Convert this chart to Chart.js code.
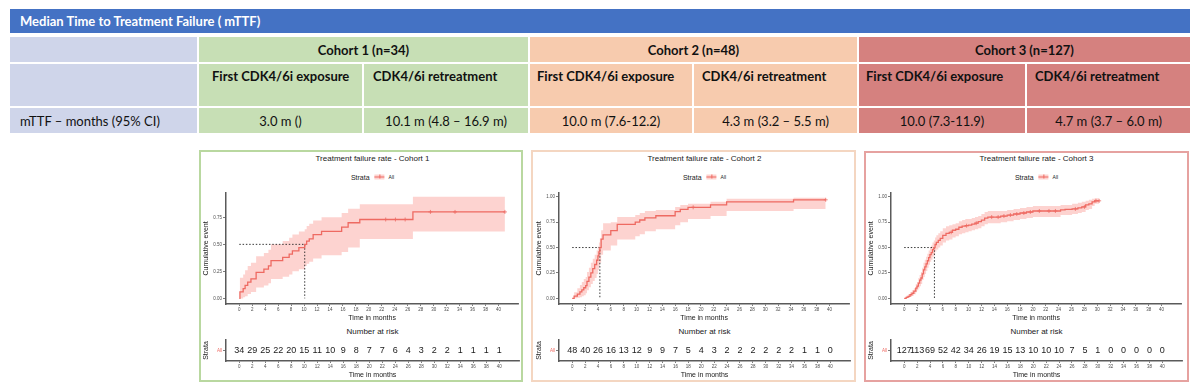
<!DOCTYPE html>
<html>
<head>
<meta charset="utf-8">
<script src="https://cdn.jsdelivr.net/npm/chart.js@4.4.1/dist/chart.umd.min.js"></script>
<style>
html,body{margin:0;padding:0;background:#fff;}
body{width:1200px;height:392px;position:relative;overflow:hidden;}
.box{position:absolute;box-sizing:border-box;}
.tc{position:absolute;white-space:nowrap;line-height:1;font-family:Lato,'Open Sans',sans-serif;font-size:13px;color:#111;transform:translateY(-50%);}
.lbl{position:absolute;white-space:nowrap;line-height:1;transform:translate(-50%,-50%);font-family:'Liberation Sans',Arial,sans-serif;color:#1a1a1a;}
canvas{position:absolute;}
</style>
</head>
<body>
<script>
// ================= DATA =================
const tableTitle = 'Median Time to Treatment Failure ( mTTF)';
const cohortHeaders = ['Cohort 1 (n=34)', 'Cohort 2 (n=48)', 'Cohort 3 (n=127)'];
const subHeaders = ['First CDK4/6i exposure', 'CDK4/6i retreatment'];
const rowLabel = 'mTTF – months (95% CI)';
const mttfValues = ['3.0 m ()', '10.1 m (4.8 – 16.9 m)', '10.0 m (7.6-12.2)', '4.3 m (3.2 – 5.5 m)', '10.0 (7.3-11.9)', '4.7 m (3.7 – 6.0 m)'];

const chartTitles = ['Treatment failure rate - Cohort 1', 'Treatment failure rate - Cohort 2', 'Treatment failure rate - Cohort 3'];
const legendTitle = 'Strata';
const strataLabel = 'All';
const xAxisTitle = 'Time in months';
const yAxisTitle = 'Cumulative event';
const riskTitle = 'Number at risk';
const riskYTitle = 'Strata';

const timeTicks = [0,2,4,6,8,10,12,14,16,18,20,22,24,26,28,30,32,34,36,38,40];
const timeTickLabels = ['0','2','4','6','8','10','12','14','16','18','20','22','24','26','28','30','32','34','36','38','40'];
const yTicksC1 = [0, 0.25, 0.5, 0.75];
const yTickLabelsC1 = ['0.00','0.25','0.50','0.75'];
const yTicksC23 = [0, 0.25, 0.5, 0.75, 1];
const yTickLabelsC23 = ['0.00','0.25','0.50','0.75','1.00'];

// Cohort 1
const c1Time  = [0, 0.1, 0.6, 0.9, 1.3, 1.8, 2.6, 3.8, 4.5, 4.9, 6.7, 7.7, 8.2, 9.2, 10.1, 10.4, 10.8, 11.4, 12.7, 15.8, 16.8, 18.6, 26.8, 41.0];
const c1Est   = [0, 0.06, 0.09, 0.12, 0.15, 0.18, 0.24, 0.27, 0.30, 0.35, 0.38, 0.41, 0.44, 0.47, 0.50, 0.53, 0.55, 0.59, 0.62, 0.66, 0.70, 0.73, 0.80, 0.80];
const c1Lower = [0, 0.00, 0.01, 0.02, 0.04, 0.06, 0.10, 0.12, 0.14, 0.18, 0.20, 0.22, 0.25, 0.27, 0.30, 0.32, 0.34, 0.37, 0.40, 0.43, 0.47, 0.55, 0.62, 0.62];
const c1Upper = [0, 0.19, 0.22, 0.26, 0.30, 0.33, 0.39, 0.42, 0.45, 0.50, 0.53, 0.56, 0.59, 0.62, 0.64, 0.67, 0.69, 0.72, 0.75, 0.79, 0.83, 0.87, 0.94, 0.94];
const c1CensorTime = [22.6, 24.1, 25.6, 29.5, 33.3, 41.0];
const c1CensorEst  = [0.73, 0.73, 0.73, 0.80, 0.80, 0.80];
const c1Median = 10.1;
const c1Risk = [34,29,25,22,20,15,11,10,9,8,7,7,6,4,3,2,2,1,1,1,1];

// Cohort 2
const c2Time  = [0, 0.3, 0.8, 1.2, 1.5, 1.8, 2.1, 2.3, 2.6, 2.9, 3.2, 3.5, 3.8, 4.0, 4.15, 4.3, 4.5, 4.8, 6.0, 7.0, 9.8, 10.5, 11.3, 13.0, 16.0, 16.8, 18.0, 21.5, 24.0, 34.4, 39.4];
const c2Est   = [0, 0.021, 0.042, 0.063, 0.083, 0.104, 0.125, 0.167, 0.208, 0.25, 0.292, 0.333, 0.375, 0.417, 0.458, 0.50, 0.583, 0.625, 0.667, 0.729, 0.75, 0.771, 0.792, 0.813, 0.854, 0.875, 0.896, 0.92, 0.95, 0.97, 0.97];
const c2Lower = [0, 0, 0.005, 0.01, 0.02, 0.03, 0.05, 0.08, 0.11, 0.14, 0.17, 0.20, 0.24, 0.28, 0.31, 0.35, 0.43, 0.47, 0.52, 0.58, 0.61, 0.63, 0.66, 0.68, 0.72, 0.75, 0.78, 0.81, 0.86, 0.88, 0.88];
const c2Upper = [0, 0.06, 0.10, 0.13, 0.16, 0.19, 0.21, 0.26, 0.30, 0.35, 0.39, 0.43, 0.47, 0.51, 0.55, 0.59, 0.67, 0.74, 0.75, 0.80, 0.82, 0.84, 0.86, 0.87, 0.90, 0.92, 0.93, 0.95, 0.98, 0.99, 0.99];
const c2CensorTime = [18.8, 39.4];
const c2CensorEst  = [0.896, 0.97];
const c2Median = 4.3;
const c2Risk = [48,40,26,16,13,12,9,9,7,5,4,3,2,2,2,2,2,2,1,1,0];

// Cohort 3
const c3Time  = [0, 0.3, 0.6, 0.9, 1.2, 1.5, 1.8, 2.0, 2.2, 2.4, 2.6, 2.8, 3.0, 3.2, 3.4, 3.6, 3.8, 4.0, 4.2, 4.4, 4.6, 4.8, 5.0, 5.3, 5.6, 6.0, 6.5, 7.0, 7.5, 8.0, 8.5, 9.0, 9.5, 10.0, 10.5, 11.0, 11.5, 12.0, 12.5, 13.0, 14.0, 15.0, 16.0, 17.0, 18.0, 19.0, 20.0, 24.3, 25.0, 26.1, 27.0, 27.6, 28.2, 28.7, 29.2, 29.6, 30.3];
const c3Est   = [0, 0.01, 0.02, 0.035, 0.05, 0.07, 0.10, 0.12, 0.15, 0.18, 0.20, 0.24, 0.28, 0.31, 0.34, 0.37, 0.40, 0.43, 0.45, 0.48, 0.50, 0.53, 0.55, 0.57, 0.59, 0.62, 0.64, 0.65, 0.67, 0.68, 0.70, 0.71, 0.715, 0.72, 0.73, 0.74, 0.755, 0.77, 0.79, 0.80, 0.80, 0.81, 0.82, 0.83, 0.84, 0.85, 0.86, 0.87, 0.875, 0.88, 0.89, 0.90, 0.92, 0.93, 0.95, 0.96, 0.96];
const c3Lower = [0, 0.0, 0.005, 0.015, 0.025, 0.04, 0.06, 0.08, 0.10, 0.12, 0.14, 0.18, 0.21, 0.24, 0.27, 0.30, 0.33, 0.36, 0.38, 0.41, 0.43, 0.46, 0.48, 0.50, 0.52, 0.55, 0.57, 0.58, 0.60, 0.61, 0.63, 0.64, 0.65, 0.66, 0.67, 0.68, 0.69, 0.71, 0.73, 0.74, 0.74, 0.75, 0.76, 0.77, 0.78, 0.79, 0.80, 0.82, 0.82, 0.83, 0.84, 0.85, 0.87, 0.88, 0.91, 0.93, 0.93];
const c3Upper = [0, 0.025, 0.04, 0.06, 0.08, 0.10, 0.14, 0.16, 0.20, 0.23, 0.26, 0.30, 0.35, 0.38, 0.41, 0.44, 0.47, 0.50, 0.52, 0.55, 0.57, 0.60, 0.62, 0.64, 0.66, 0.69, 0.71, 0.72, 0.73, 0.74, 0.76, 0.77, 0.78, 0.78, 0.79, 0.80, 0.81, 0.83, 0.85, 0.86, 0.86, 0.86, 0.87, 0.88, 0.89, 0.90, 0.91, 0.92, 0.92, 0.93, 0.94, 0.95, 0.96, 0.97, 0.98, 0.985, 0.985];
const c3CensorTime = [7.3, 9.7, 11.2, 13.6, 14.6, 15.5, 16.5, 17.5, 18.6, 19.6, 21.0, 22.5, 23.5, 26.6, 28.0, 29.8, 30.3];
const c3CensorEst  = [0.65, 0.715, 0.74, 0.80, 0.80, 0.81, 0.82, 0.83, 0.84, 0.85, 0.86, 0.86, 0.86, 0.88, 0.90, 0.96, 0.96];
const c3Median = 4.7;
const c3Risk = [127,113,69,52,42,34,26,19,15,13,10,10,10,7,5,1,0,0,0,0,0];

// ================= STYLE / LAYOUT =================
const LINE = '#EE6A62';
const BAND = 'rgba(248,118,109,0.32)';
const AXIS = '#5a5a5a';
const TICKTXT = '#4d4d4d';
const FONT = "'Liberation Sans', Arial, sans-serif";
Chart.defaults.font.family = FONT;

function el(tag, cls, style, text) {
  const e = document.createElement(tag);
  if (cls) e.className = cls;
  Object.assign(e.style, style || {});
  if (text !== undefined) e.textContent = text;
  document.body.appendChild(e);
  return e;
}
function rect(x0, y0, x1, y1, bg) {
  return el('div', 'box', {left: x0+'px', top: y0+'px', width: (x1-x0)+'px', height: (y1-y0)+'px', background: bg});
}

// ---------- table ----------
const C_HEAD = '#4472C4', C_FIRST = '#CFD5EA';
const C_COH = ['#C7DFB5', '#F7CBAE', '#D5817F'];
rect(10, 9, 1190, 33, C_HEAD);
el('div', 'tc', {left: '20px', top: '21px', color: '#fff', fontWeight: '700'}, tableTitle);

const rows = [[37, 62], [64, 106], [108, 133]];
rows.forEach(r => rect(10, r[0], 197, r[1], C_FIRST));
el('div', 'tc', {left: '20px', top: '121px'}, rowLabel);

const cohortSpan = [[199, 528], [530, 857], [859, 1190]];
cohortSpan.forEach((s, i) => {
  rect(s[0], rows[0][0], s[1], rows[0][1], C_COH[i]);
  el('div', 'tc', {left: ((s[0]+s[1])/2)+'px', top: '50px', fontWeight: '700', transform: 'translate(-50%,-50%)'}, cohortHeaders[i]);
});
const subSpan = [[199, 362], [364, 528], [530, 692], [694, 857], [859, 1025], [1027, 1190]];
const subTextLeft = [212, 373, 537, 702, 866, 1035];
subSpan.forEach((s, i) => {
  const col = C_COH[Math.floor(i/2)];
  rect(s[0], rows[1][0], s[1], rows[1][1], col);
  rect(s[0], rows[2][0], s[1], rows[2][1], col);
  el('div', 'tc', {left: subTextLeft[i]+'px', top: '76px', fontWeight: '700'}, subHeaders[i % 2]);
  el('div', 'tc', {left: ((s[0]+s[1])/2)+'px', top: '121px', transform: 'translate(-50%,-50%)'}, mttfValues[i]);
});

// ---------- KM panels ----------
const cohorts = [
  {time: c1Time, est: c1Est, lower: c1Lower, upper: c1Upper, cT: c1CensorTime, cE: c1CensorEst, median: c1Median, risk: c1Risk, yTicks: yTicksC1, yLabels: yTickLabelsC1},
  {time: c2Time, est: c2Est, lower: c2Lower, upper: c2Upper, cT: c2CensorTime, cE: c2CensorEst, median: c2Median, risk: c2Risk, yTicks: yTicksC23, yLabels: yTickLabelsC23},
  {time: c3Time, est: c3Est, lower: c3Lower, upper: c3Upper, cT: c3CensorTime, cE: c3CensorEst, median: c3Median, risk: c3Risk, yTicks: yTicksC23, yLabels: yTickLabelsC23}
];
const panels = [
  {box: [199, 150, 523, 382], border: '#B9D8A0', axisX: 226, plotW: 293, yMin: -0.052, yMax: 0.977},
  {box: [531, 150, 856, 382], border: '#F4D6C1', axisX: 559, plotW: 291, yMin: -0.056, yMax: 1.039},
  {box: [864, 151, 1189, 382], border: '#E6A2A0', axisX: 891, plotW: 291, yMin: -0.056, yMax: 1.039}
];
const X_MIN = -2.05, X_MAX = 43.05;
const Y_W = 30;

function xScale(title) {
  return {
    type: 'linear', min: X_MIN, max: X_MAX,
    afterBuildTicks: s => { s.ticks = timeTicks.map(v => ({value: v})); },
    afterFit: s => { s.height = 18; },
    ticks: {callback: (v, i) => timeTickLabels[i], autoSkip: false, maxRotation: 0, padding: 1, font: {size: 4.5}, color: TICKTXT},
    grid: {drawOnChartArea: false, drawTicks: true, tickLength: 2, color: AXIS, lineWidth: 0.8},
    border: {display: true, color: AXIS, width: 1.5},
    title: {display: true, text: title, color: '#1a1a1a', font: {size: 7}, padding: {top: 0, bottom: 0}}
  };
}

panels.forEach((p, k) => {
  const d = cohorts[k];
  const [bx0, by0, bx1, by1] = p.box;
  el('div', 'box', {left: bx0+'px', top: by0+'px', width: (bx1-bx0)+'px', height: (by1-by0)+'px', border: '2px solid '+p.border});
  const cx = p.axisX + p.plotW/2;
  el('div', 'lbl', {left: cx+'px', top: '159px', fontSize: '8px'}, chartTitles[k]);
  // legend
  const lg = el('div', 'lbl', {left: cx+'px', top: '176.5px', display: 'flex', alignItems: 'center'});
  const lt = document.createElement('span'); lt.textContent = legendTitle; lt.style.fontSize = '7px'; lt.style.marginRight = '5px'; lg.appendChild(lt);
  const sym = document.createElement('span');
  Object.assign(sym.style, {display: 'inline-block', position: 'relative', width: '10px', height: '5px', background: BAND, marginRight: '4px'});
  const h = document.createElement('span'); Object.assign(h.style, {position: 'absolute', left: '0', top: '2px', width: '10px', height: '1px', background: LINE}); sym.appendChild(h);
  const v = document.createElement('span'); Object.assign(v.style, {position: 'absolute', left: '4.5px', top: '0.5px', width: '1px', height: '4px', background: LINE}); sym.appendChild(v);
  lg.appendChild(sym);
  const la = document.createElement('span'); la.textContent = strataLabel; la.style.fontSize = '5px'; lg.appendChild(la);
  el('div', 'lbl', {left: cx+'px', top: '331.7px', fontSize: '8px'}, riskTitle);

  // main plot
  const W = Y_W + p.plotW + 4;
  const mc = document.createElement('canvas');
  mc.width = W; mc.height = 134;
  Object.assign(mc.style, {left: (p.axisX - Y_W)+'px', top: '188px', width: W+'px', height: '134px'});
  document.body.appendChild(mc);
  const pts = (xs, ys) => xs.map((x, i) => ({x: x, y: ys[i]}));
  new Chart(mc, {
    type: 'line',
    data: {datasets: [
      {data: pts(d.time, d.est), stepped: true, borderColor: LINE, borderWidth: 1.3, pointRadius: 0, fill: false},
      {data: pts(d.cT, d.cE), showLine: false, pointStyle: 'cross', pointRadius: 2, borderColor: LINE, pointBorderColor: LINE, pointBorderWidth: 0.8},
      {data: [{x: 0, y: 0.5}, {x: d.median, y: 0.5}, {x: d.median, y: 0}], borderColor: '#222', borderWidth: 0.9, borderDash: [1.5, 1.8], pointRadius: 0, fill: false},
      {data: pts(d.time, d.upper), stepped: true, borderColor: 'transparent', borderWidth: 0, pointRadius: 0, fill: '+1', backgroundColor: BAND},
      {data: pts(d.time, d.lower), stepped: true, borderColor: 'transparent', borderWidth: 0, pointRadius: 0, fill: false}
    ]},
    options: {
      responsive: false, animation: false, events: [],
      layout: {padding: {top: 4, right: 4, left: 0, bottom: 0}},
      plugins: {legend: {display: false}, tooltip: {enabled: false}},
      scales: {
        x: xScale(xAxisTitle),
        y: {
          min: p.yMin, max: p.yMax,
          afterBuildTicks: s => { s.ticks = d.yTicks.map(v => ({value: v})); },
          afterFit: s => { s.width = Y_W; },
          ticks: {callback: (v, i) => d.yLabels[i], autoSkip: false, padding: 1, font: {size: 4.5}, color: TICKTXT},
          grid: {drawOnChartArea: false, drawTicks: true, tickLength: 3, color: AXIS, lineWidth: 0.8},
          border: {display: true, color: AXIS, width: 1.5},
          title: {display: true, text: yAxisTitle, color: '#1a1a1a', font: {size: 7}, padding: {top: 5.8, bottom: 0}}
        }
      }
    }
  });

  // risk table
  const rc = document.createElement('canvas');
  rc.width = W; rc.height = 43;
  Object.assign(rc.style, {left: (p.axisX - Y_W)+'px', top: '336px', width: W+'px', height: '43px'});
  document.body.appendChild(rc);
  new Chart(rc, {
    type: 'scatter',
    data: {datasets: [{data: timeTicks.map(t => ({x: t, y: 0.5})), pointRadius: 0}]},
    plugins: [{
      id: 'riskText',
      afterDatasetsDraw(chart) {
        const {ctx, scales} = chart;
        ctx.save();
        ctx.font = '9px ' + FONT;
        ctx.fillStyle = '#1a1a1a';
        ctx.textAlign = 'center';
        ctx.textBaseline = 'middle';
        d.risk.forEach((n, i) => ctx.fillText(String(n), scales.x.getPixelForValue(timeTicks[i]), scales.y.getPixelForValue(0.5)));
        ctx.restore();
      }
    }],
    options: {
      responsive: false, animation: false, events: [],
      layout: {padding: {top: 4, right: 4, left: 0, bottom: 0}},
      plugins: {legend: {display: false}, tooltip: {enabled: false}},
      scales: {
        x: xScale(xAxisTitle),
        y: {
          min: 0, max: 1,
          afterBuildTicks: s => { s.ticks = [{value: 0.5}]; },
          afterFit: s => { s.width = Y_W; },
          ticks: {callback: () => strataLabel, padding: 1, font: {size: 4.5}, color: LINE},
          grid: {drawOnChartArea: false, drawTicks: true, tickLength: 3, color: AXIS, lineWidth: 0.8},
          border: {display: true, color: AXIS, width: 1.5},
          title: {display: true, text: riskYTitle, color: '#1a1a1a', font: {size: 7}, padding: {top: 5.8, bottom: 0}}
        }
      }
    }
  });
});
</script>
</body>
</html>
